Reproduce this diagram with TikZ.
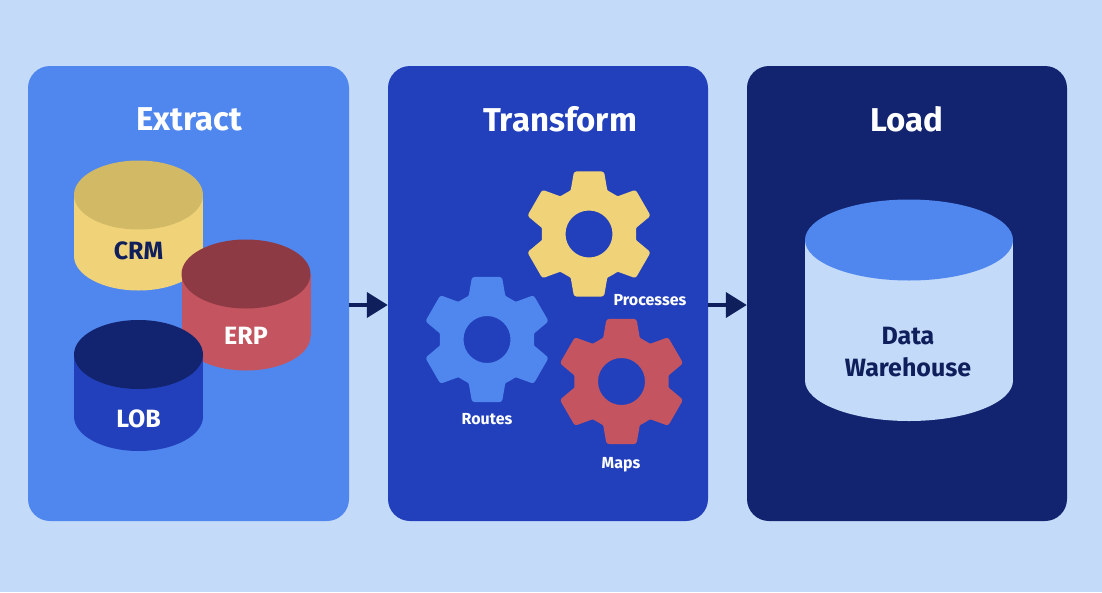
\documentclass[tikz,border=0pt]{standalone}
\usepackage{fontspec}
\setmainfont{Fira Sans}
\usetikzlibrary{arrows.meta}
\definecolor{pagebg}{HTML}{C3DAF9}
\definecolor{midblue}{HTML}{5087EE}
\definecolor{royal}{HTML}{2240BB}
\definecolor{navy}{HTML}{12246F}
\definecolor{ink}{HTML}{0F1F5C}
\definecolor{sand}{HTML}{F0D278}
\definecolor{sandtop}{HTML}{D2B966}
\definecolor{rose}{HTML}{C45560}
\definecolor{rosetop}{HTML}{8E3A44}
\tikzset{
  panel/.style={rectangle,rounded corners=22pt,minimum width=#1,minimum height=455pt,inner sep=0pt,draw=none},
  title/.style={text=white,font=\bfseries\fontsize{33}{33}\selectfont,inner sep=0pt},
  cyllabel/.style={font=\bfseries\fontsize{25}{25}\selectfont,inner sep=0pt},
  dwlabel/.style={text=ink,font=\bfseries\fontsize{25}{25}\selectfont,inner sep=0pt},
  gearlabel/.style={text=white,font=\bfseries\fontsize{16}{16}\selectfont,inner sep=0pt},
  flow/.style={draw=ink,line width=4pt,-{Triangle[length=21pt,width=25pt,fill=ink]}},
}
% \cyl{cx}{top centre y}{bottom centre y}{rx}{ry}{body}{top}
\newcommand{\cyl}[7]{%
  \fill[#6] (#1,#3) ellipse [x radius=#4pt,y radius=#5pt];
  \fill[#6] ({#1-#4},#2) rectangle ({#1+#4},#3);
  \fill[#7] (#1,#2) ellipse [x radius=#4pt,y radius=#5pt];
}
% \gearshape{cx}{cy}{colour}
\newcommand{\gearshape}[3]{%
  \begin{scope}[shift={(#1,#2)}]
    \fill[#3,even odd rule,rounded corners=0.8pt] (60:47.2)
      \foreach \a in {90,150,210,270,330,390} {
        -- ({\a-22.7}:47.4) [rounded corners=2.5pt] -- ({\a-13.5}:64.3) -- ({\a+13.5}:64.3) [rounded corners=0.8pt] -- ({\a+22.7}:47.4)
      } -- cycle (0,0) circle (23.5);
  \end{scope}%
}
\begin{document}
\begin{tikzpicture}[x=1pt,y=-1pt]
\useasboundingbox (0,0) rectangle (1102,592);
\fill[pagebg] (0,0) rectangle (1102,592);
\node[panel=321pt,fill=midblue] (extract) at (188.5,293.5) {};
\node[panel=320pt,fill=royal] (transform) at (548,293.5) {};
\node[panel=320pt,fill=navy] (load) at (907,293.5) {};
\node[title] (t1) at (189,119) {Extract};
\node[title] (t2) at (560,119) {Transform};
\node[title] (t3) at (907,119) {Load};
\cyl{138.5}{195}{256}{64.5}{34.5}{sand}{sandtop}
\cyl{246}{274}{336}{64.5}{34.5}{rose}{rosetop}
\cyl{138.5}{354.5}{416.5}{64.5}{34.5}{royal}{navy}
\node[cyllabel,text=ink] (crm) at (138.5,251) {CRM};
\node[cyllabel,text=white] (erp) at (246,336) {ERP};
\node[cyllabel,text=white] (lob) at (138.5,419) {LOB};
\gearshape{589}{234}{sand}
\gearshape{487}{339.5}{midblue}
\gearshape{621.5}{381.5}{rose}
\node[gearlabel] (proc) at (650,300) {Processes};
\node[gearlabel] (rout) at (487,419) {Routes};
\node[gearlabel] (maps) at (621,464.5) {Maps};
\cyl{909}{240}{380.5}{104}{40.5}{pagebg}{midblue}
\node[dwlabel] (data) at (908,336) {Data};
\node[dwlabel] (wh) at (908,367.5) {Warehouse};
\draw[flow] ([yshift=-11.5pt]extract.east) -- ([yshift=-11.5pt]transform.west);
\draw[flow] ([yshift=-11.5pt]transform.east) -- ([yshift=-11.5pt]load.west);
\end{tikzpicture}
\end{document}
